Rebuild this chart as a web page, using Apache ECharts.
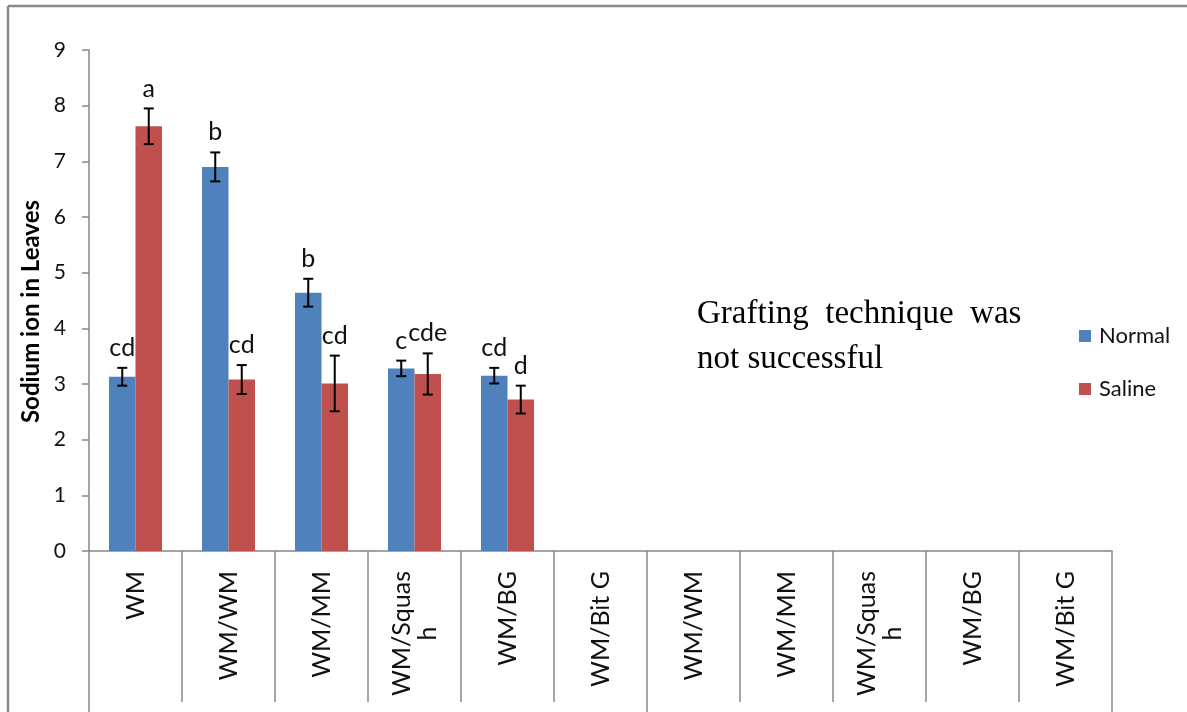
<!DOCTYPE html>
<html>
<head>
<meta charset="utf-8">
<script src="https://cdn.jsdelivr.net/npm/echarts@6/dist/echarts.min.js"></script>
<style>
  html, body { margin: 0; padding: 0; background: #fff; }
  #naChart { width: 1187px; height: 712px; }
</style>
</head>
<body>
<div id="naChart"></div>
<script>
// categories on the x axis
var categories = ['WM', 'WM/WM', 'WM/MM', 'WM/Squas\nh', 'WM/BG', 'WM/Bit G',
  'WM/WM', 'WM/MM', 'WM/Squas\nh', 'WM/BG', 'WM/Bit G'];
// sodium ion in leaves
var normal = [3.13, 6.90, 4.64, 3.28, 3.15];
var saline = [7.63, 3.08, 3.01, 3.18, 2.72];
// error bar half-length
var normalErr = [0.16, 0.26, 0.25, 0.14, 0.14];
var salineErr = [0.32, 0.26, 0.50, 0.37, 0.25];
// significance letters
var normalLetters = ['cd', 'b', 'b', 'c', 'cd'];
var salineLetters = ['a', 'cd', 'cd', 'cde', 'd'];
var yTicks = [0, 1, 2, 3, 4, 5, 6, 7, 8, 9];

var FONT = 'Lato';
var AXIS_GRAY = '#878787';
var gridLeft = 89, gridRight = 75, gridTop = 50, gridBottom = 161;
var catGap = 0.43;

// error bar + letter for one series; side -1 = left bar, +1 = right bar
function errorSeries(name, vals, errs, letters, side) {
  return {
    name: name + ' err',
    type: 'custom',
    z: 5,
    data: vals.map(function (v, i) { return [i, v, errs[i]]; }),
    renderItem: function (params, api) {
      var i = api.value(0), v = api.value(1), e = api.value(2);
      var band = api.size([1, 0])[0];
      var barW = band * (1 - catGap) / 2;
      var top = api.coord([i, v + e]);
      var bot = api.coord([i, v - e]);
      var x = top[0] + side * barW / 2;
      var cap = 5;
      var st = { stroke: '#000', lineWidth: 2 };
      return {
        type: 'group',
        children: [
          { type: 'line', shape: { x1: x, y1: top[1], x2: x, y2: bot[1] }, style: st },
          { type: 'line', shape: { x1: x - cap, y1: top[1], x2: x + cap, y2: top[1] }, style: st },
          { type: 'line', shape: { x1: x - cap, y1: bot[1], x2: x + cap, y2: bot[1] }, style: st },
          {
            type: 'text',
            style: {
              x: x, y: top[1] - 20,
              text: letters[params.dataIndex],
              fill: '#111',
              font: '25px ' + FONT,
              align: 'center',
              verticalAlign: 'middle'
            }
          }
        ]
      };
    }
  };
}

var myChart = echarts.init(document.getElementById('naChart'));
var plotW = 1187 - gridLeft - gridRight;
var band = plotW / categories.length;
var xEdge = function (k) { return gridLeft + band * k; };
var lineSt = { stroke: AXIS_GRAY, lineWidth: 1.5 };

// category separators hang below the axis (drawn as graphic lines)
var separators = [];
for (var k = 0; k <= categories.length; k++) {
  var longOne = (k === 0 || k === 6 || k === categories.length);
  separators.push({
    type: 'line',
    shape: { x1: xEdge(k), y1: 551, x2: xEdge(k), y2: longOne ? 712 : 702 },
    style: lineSt
  });
}

myChart.setOption({
  animation: false,
  grid: { left: gridLeft, right: gridRight, top: gridTop, bottom: gridBottom },
  legend: {
    orient: 'vertical',
    left: 1074,
    top: 319,
    itemWidth: 12,
    itemHeight: 12,
    itemGap: 29,
    icon: 'rect',
    data: ['Normal', 'Saline'],
    textStyle: { fontFamily: FONT, fontSize: 22, color: '#111', lineHeight: 24, padding: [0, 0, 0, 3] }
  },
  xAxis: {
    type: 'category',
    data: categories,
    axisLine: { show: true, lineStyle: { color: AXIS_GRAY, width: 1.5 } },
    axisTick: { show: false },
    axisLabel: {
      interval: 0,
      rotate: 90,
      margin: 20,
      color: '#111',
      fontFamily: FONT,
      fontSize: 25,
      formatter: function (v) {
        return v.split('\n').map(function (s) { return '{c|' + s + '}'; }).join('\n');
      },
      rich: { c: { align: 'center', fontFamily: FONT, fontSize: 25, color: '#111', lineHeight: 26 } }
    }
  },
  yAxis: {
    type: 'value',
    min: yTicks[0],
    max: yTicks[yTicks.length - 1],
    interval: 1,
    name: 'Sodium ion in Leaves',
    nameLocation: 'middle',
    nameGap: 44,
    nameRotate: 90,
    nameTextStyle: { fontFamily: FONT, fontSize: 24, fontWeight: 'bold', color: '#000', padding: [0, 22, 0, 0] },
    axisLine: { show: true, lineStyle: { color: AXIS_GRAY, width: 1.5 } },
    axisTick: { show: true, length: 7, lineStyle: { color: AXIS_GRAY, width: 1.5 } },
    splitLine: { show: false },
    axisLabel: { margin: 23, color: '#111', fontFamily: FONT, fontSize: 21 }
  },
  series: [
    {
      name: 'Normal', type: 'bar', data: normal,
      barGap: 0, barCategoryGap: (catGap * 100) + '%',
      itemStyle: { color: '#4F81BD' }
    },
    {
      name: 'Saline', type: 'bar', data: saline,
      barGap: 0, barCategoryGap: (catGap * 100) + '%',
      itemStyle: { color: '#C0504D' }
    },
    errorSeries('Normal', normal, normalErr, normalLetters, -1),
    errorSeries('Saline', saline, salineErr, salineLetters, 1)
  ],
  graphic: separators.concat([
    // chart frame
    { type: 'line', shape: { x1: 8, y1: 6, x2: 1187, y2: 6 }, style: { stroke: '#8a8a8a', lineWidth: 2.5 } },
    { type: 'line', shape: { x1: 8, y1: 6, x2: 8, y2: 712 }, style: { stroke: '#8a8a8a', lineWidth: 2.5 } },
    {
      type: 'text',
      left: 697,
      top: 292,
      style: {
        text: 'Grafting  technique  was\nnot successful',
        font: '33px "Liberation Serif"',
        lineHeight: 45,
        fill: '#000'
      }
    }
  ])
});
</script>
</body>
</html>
